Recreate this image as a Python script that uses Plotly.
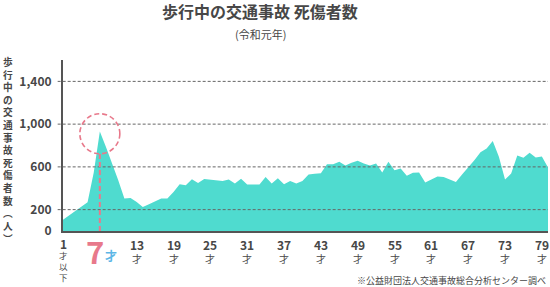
import plotly.graph_objects as go

ages = list(range(1, 81))
casualties = [106, 146, 193, 231, 268, 545, 930, 787, 636, 475,
              303, 309, 271, 225, 250, 278, 303, 303, 365, 438,
              428, 485, 450, 487, 481, 475, 469, 481, 444, 488,
              434, 434, 434, 506, 444, 494, 438, 469, 444, 469,
              528, 535, 541, 625, 625, 647, 613, 638, 657, 632,
              613, 632, 547, 647, 569, 585, 516, 544, 547, 453,
              481, 510, 506, 485, 459, 528, 594, 663, 738, 773,
              841, 694, 481, 538, 707, 685, 732, 688, 697, 594]
tick_ages = [1, 7, 13, 19, 25, 31, 37, 43, 49, 55, 61, 67, 73, 79]
y_ticks = [0, 200, 600, 1000, 1400]
y_ticktext = ["0", "200", "600", "1,000", "1,400"]
peak_age = 7
peak_circle_value = 910
title = "歩行中の交通事故 死傷者数"
subtitle = "(令和元年)"
y_title = "歩行中の交通事故死傷者数︵人︶"
source = "※公益財団法人交通事故総合分析センター調べ"

W, H = 550, 287
L, R, T, B = 63, 2, 60, 56
PW, PH = W - L - R, H - T - B
FONT = "Noto Sans CJK JP"
GRAY = "#474747"
TEAL = "#4fdbcf"
PINK = "#e8798b"
BLUE = "#5cb6e6"


def py(p):
    return (H - B - p) / PH


def px(p):
    return (p - L) / PW


def note(text, x, y, size, color=GRAY, xref="paper", xanchor="center", yanchor="middle",
         xshift=0):
    return dict(text=text, x=x, y=y, xref=xref, yref="paper", showarrow=False,
                xanchor=xanchor, yanchor=yanchor, xshift=xshift, borderpad=0,
                font=dict(size=size, color=color, family=FONT))


fig = go.Figure()
fig.add_trace(go.Scatter(x=ages, y=casualties, mode="lines", fill="tozeroy",
                         fillcolor=TEAL, line=dict(width=0, color=TEAL),
                         hoverinfo="x+y", showlegend=False))

shapes = []
for v in y_ticks[1:]:
    shapes.append(dict(type="line", xref="paper", yref="y", x0=-0.011, x1=1,
                       y0=v, y1=v, line=dict(color="#666", width=1, dash="3px,2px"),
                       layer="above"))
# dashed circle around peak
shapes.append(dict(type="circle", xref="x", yref="y", xsizemode="pixel", ysizemode="pixel",
                   xanchor=peak_age, yanchor=peak_circle_value, x0=-20, x1=20, y0=-20, y1=20,
                   line=dict(color=PINK, width=1.6, dash="5px,3px"), layer="above"))
shapes.append(dict(type="line", xref="x", yref="y", ysizemode="pixel", yanchor=0,
                   x0=peak_age, x1=peak_age, y0=0, y1=77,
                   line=dict(color=PINK, width=2, dash="5px,3px"), layer="above"))

ann = []
ann.append(note("<b>" + title + "</b>", px(260), py(11), 16))
ann.append(note(subtitle, px(260), py(34), 11))
ann.append(note("<b>" + "<br>".join(y_title) + "</b>", px(8), py(150), 9.7))
for a in tick_ages:
    if a == 1:
        ann.append(note("<b>1</b>", a, py(243), 12, xref="x"))
        ann.append(note("才<br>以<br>下", a, py(266), 8.5, xref="x"))
    elif a == peak_age:
        ann.append(note("<b>7</b>", a, py(250), 31, color=PINK, xref="x", xshift=-5))
        ann.append(note("<b>才</b>", a, py(255), 12, color=BLUE, xref="x", xshift=11))
    else:
        ann.append(note("<span style='font-size:12px'><b>%d</b></span><br>才" % a,
                        a, py(251), 10, xref="x"))
ann.append(note(source, px(547), py(280), 9, xanchor="right"))

fig.update_layout(
    width=W, height=H, margin=dict(l=L, r=R, t=T, b=B),
    paper_bgcolor="white", plot_bgcolor="white",
    xaxis=dict(range=[1, 80], showgrid=False, zeroline=False, showticklabels=False,
               showline=True, linecolor="#555", linewidth=2, ticks=""),
    yaxis=dict(range=[0, 1600], showgrid=False, zeroline=False,
               tickvals=y_ticks, ticktext=["<b>%s</b>" % t for t in y_ticktext],
               tickfont=dict(size=12, color=GRAY, family=FONT),
               ticks="outside", ticklen=7, tickcolor="rgba(0,0,0,0)",
               showline=True, linecolor="#555", linewidth=2),
    shapes=shapes, annotations=ann, font=dict(family=FONT),
)
fig.write_html("out.html")
